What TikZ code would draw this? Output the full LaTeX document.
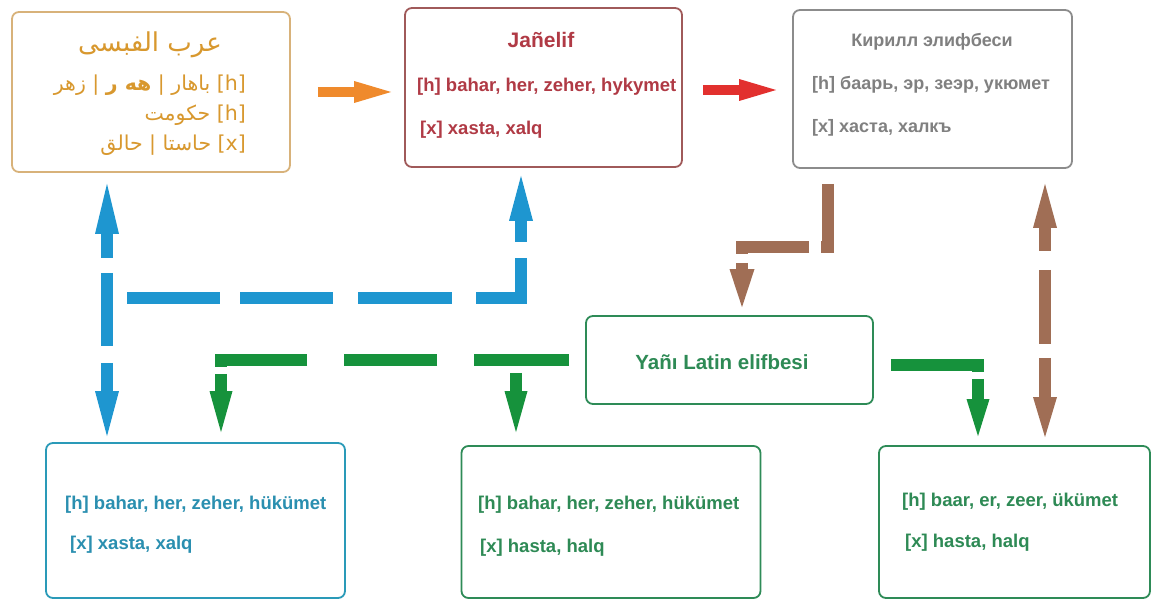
\documentclass[tikz,border=0pt]{standalone}
\usepackage{fontspec}
\setmainfont{Liberation Sans}
\newfontfamily\arabicfont[Script=Arabic]{DejaVu Sans}
\TeXXeTstate=1
\usetikzlibrary{arrows.meta}
\definecolor{arabtxt}{HTML}{D8982E}
\definecolor{arabbox}{HTML}{D8B27A}
\definecolor{jantxt}{HTML}{B03A45}
\definecolor{janbox}{HTML}{A05A5A}
\definecolor{kirtxt}{HTML}{808080}
\definecolor{kirbox}{HTML}{8C8C8C}
\definecolor{grntxt}{HTML}{2E8A55}
\definecolor{grnbox}{HTML}{2E8B57}
\definecolor{tealbox}{HTML}{2A9AB8}
\definecolor{tealtxt}{HTML}{2A8FB0}
\definecolor{bluearr}{HTML}{1E96D0}
\definecolor{grnarr}{HTML}{16923C}
\definecolor{brnarr}{HTML}{A06E55}
\definecolor{orgarr}{HTML}{EF8A2C}
\definecolor{redarr}{HTML}{E2302E}
\begin{document}
\begin{tikzpicture}[x=1pt,y=-1pt,
  box/.style={draw, line width=1.8pt, rounded corners=7pt, fill=white, inner sep=0pt},
  txt/.style={anchor=west, inner sep=0pt, font=\bfseries\fontsize{18.5}{22}\selectfont},
  ttl/.style={inner sep=0pt, font=\bfseries\fontsize{21}{24}\selectfont},
  artxt/.style={anchor=east, inner sep=0pt, text=arabtxt, font=\arabicfont\fontsize{20.5}{24}\selectfont},
  fat/.style={line width=12pt, line join=miter},
  thin/.style={line width=10pt}]
\useasboundingbox (0,0) rectangle (1152,601);

% boxes
\node[box, draw=arabbox, minimum width=278pt, minimum height=160pt] (arab) at (151,92) {};
\node[box, draw=janbox, minimum width=277pt, minimum height=159pt] (jan) at (543.5,87.5) {};
\node[box, draw=kirbox, minimum width=279pt, minimum height=158pt] (kir) at (932.5,89) {};
\node[box, draw=grnbox, minimum width=287pt, minimum height=88pt] (yan) at (729.5,360) {};
\node[box, draw=tealbox, minimum width=299pt, minimum height=155pt] (bl) at (195.5,520.5) {};
\node[box, draw=grnbox, minimum width=299pt, minimum height=152pt] (bm) at (611,522) {};
\node[box, draw=grnbox, minimum width=271pt, minimum height=152pt] (br) at (1014.5,522) {};

% Arabic box text
\node[inner sep=0pt, text=arabtxt, font=\arabicfont\fontsize{26}{30}\selectfont] (a0) at (150,45) {\beginR عرب الفبسى\endR};
\node[artxt] (a1) at (246,85) {\beginR باهار | {\bfseries هه ر} | زهر\endR\ [h]};
\node[artxt] (a2) at (246,115) {\beginR حكومت\endR\ [h]};
\node[artxt] (a3) at (246,145) {\beginR حاستا | حالق\endR\ [x]};

% Janelif
\node[ttl, text=jantxt] (j0) at (541,40) {Jañelif};
\node[txt, text=jantxt] (j1) at (417,87) {[h] bahar, her, zeher, hykymet};
\node[txt, text=jantxt] (j2) at (420,130) {[x] xasta, xalq};

% Cyrillic
\node[ttl, text=kirtxt, font=\bfseries\fontsize{18}{22}\selectfont] (k0) at (932,42) {Кирилл элифбеси};
\node[txt, text=kirtxt, font=\bfseries\fontsize{18}{22}\selectfont] (k1) at (812,85) {[h] баарь, эр, зеэр, укюмет};
\node[txt, text=kirtxt, font=\bfseries\fontsize{18}{22}\selectfont] (k2) at (812,128) {[x] хаста, халкъ};

% Yani Latin
\node[ttl, text=grntxt, font=\bfseries\fontsize{20.5}{24}\selectfont] (y0) at (722,362) {Yañı Latin elifbesi};

% bottom boxes
\node[txt, text=tealtxt] (b1) at (65,505) {[h] bahar, her, zeher, hükümet};
\node[txt, text=tealtxt] (b2) at (70,545) {[x] xasta, xalq};
\node[txt, text=grntxt] (m1) at (478,505) {[h] bahar, her, zeher, hükümet};
\node[txt, text=grntxt] (m2) at (480,548) {[x] hasta, halq};
\node[txt, text=grntxt] (r1) at (902,502) {[h] baar, er, zeer, ükümet};
\node[txt, text=grntxt] (r2) at (905,543) {[x] hasta, halq};

% coordinates
\coordinate (xb) at (107,0);
\coordinate (bstart) at (127,298);
\coordinate (bcorner) at (521,298);
\coordinate (gcorner) at (221,360);
\coordinate (gbranch) at (516,360);
\coordinate (gcr) at (978,365);
\coordinate (xk) at (828,0);
\coordinate (bk1) at (828,247);
\coordinate (bk2) at (742,247);
\coordinate (xk2) at (1045,0);

% top arrows
\draw[orgarr, thin, -{Triangle[length=37pt,width=22pt,line width=0pt]}, shorten <=27pt, shorten >=13pt]
  (arab.east) -- (arab.east -| jan.west);
\draw[redarr, thin, -{Triangle[length=37pt,width=22pt,line width=0pt]}, shorten <=20pt, shorten >=16pt]
  ([yshift=-2.5pt]jan.east) -- ([yshift=-2.5pt]jan.east -| kir.west);

% blue
\draw[bluearr, fat, {Triangle[length=50pt,width=24pt,line width=0pt]}-{Triangle[length=45pt,width=24pt,line width=0pt]},
  dash pattern=on 24pt off 15pt on 73pt off 17pt on 80pt, shorten <=11pt, shorten >=6pt]
  (xb |- arab.south) -- (xb |- bl.north);
\draw[bluearr, fat, -{Triangle[length=45pt,width=24pt,line width=0pt]},
  dash pattern=on 93pt off 20pt on 93pt off 25pt on 94pt off 24pt on 85pt off 16pt on 40pt, shorten >=8pt]
  (bstart) -- (bcorner) -- (bcorner |- jan.south);

% green
\draw[grnarr, fat, -{Triangle[length=41pt,width=23pt,line width=0pt]},
  dash pattern=on 95pt off 37pt on 93pt off 37pt on 93pt off 7pt on 40pt, shorten <=16pt, shorten >=10pt]
  (yan.west) -- (gcorner) -- (gcorner |- bl.north);
\draw[grnarr, fat, -{Triangle[length=41pt,width=23pt,line width=0pt]}, shorten <=13pt, shorten >=13pt]
  (gbranch) -- (gbranch |- bm.north);
\draw[grnarr, fat, -{Triangle[length=37pt,width=23pt,line width=0pt]},
  dash pattern=on 94pt off 7pt on 40pt, shorten <=17pt, shorten >=9pt]
  ([yshift=-5pt]yan.east) -- (gcr) -- (gcr |- br.north);

% brown
\draw[brnarr, fat, -{Triangle[length=38pt,width=25pt,line width=0pt]},
  dash pattern=on 70pt off 12pt on 74pt off 9pt on 30pt, shorten <=15pt, shorten >=8pt]
  (xk |- kir.south) -- (bk1) -- (bk2) -- (bk2 |- yan.north);
\draw[brnarr, fat, {Triangle[length=44pt,width=24pt,line width=0pt]}-{Triangle[length=40pt,width=24pt,line width=0pt]},
  dash pattern=on 23pt off 19pt on 74pt off 14pt on 80pt, shorten <=15pt, shorten >=8pt]
  (xk2 |- kir.south) -- (xk2 |- br.north);
\end{tikzpicture}
\end{document}
